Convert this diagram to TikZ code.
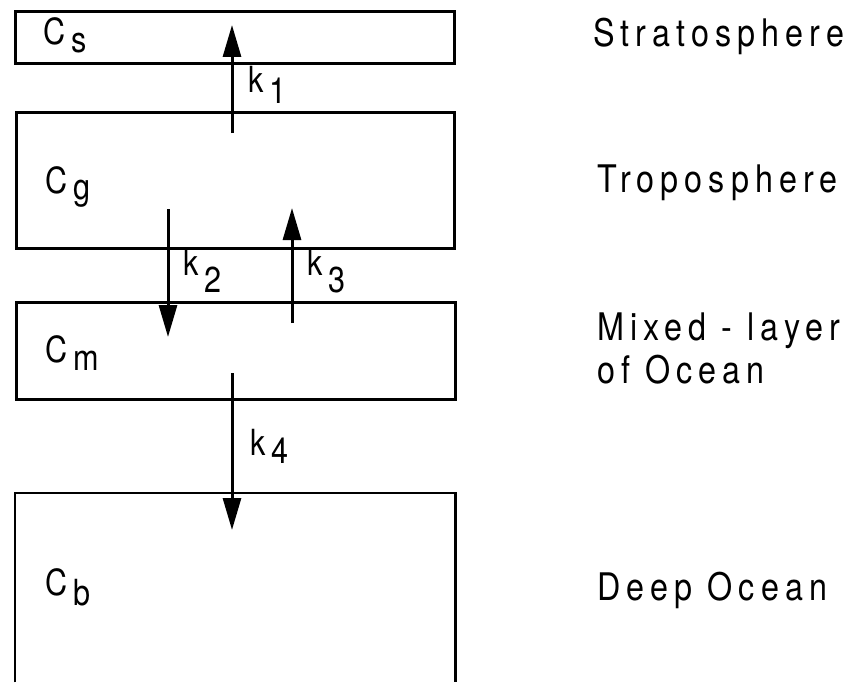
\documentclass[tikz,border=0pt]{standalone}
\usepackage{fontspec}
\setsansfont{TeX Gyre Heros}[FakeStretch=0.85,LetterSpace=16]
\usetikzlibrary{arrows.meta}
% subscript set at full size, dropped below the baseline
\newcommand\lowsub[2][10pt]{\hspace{6pt}\raisebox{-#1}{#2}}
\begin{document}
\begin{tikzpicture}[x=1pt,y=-1pt,
  layer/.style={draw,line width=3pt,inner sep=0pt,anchor=north west},
  flux/.style={line width=3pt,-{Triangle[length=32pt,width=18pt]}},
  zone/.style={anchor=base west,inner sep=0pt,font=\sffamily\fontsize{38}{43}\selectfont},
  pool/.style={anchor=base west,inner sep=0pt,font=\sffamily\fontsize{36}{40}\selectfont},
]
\useasboundingbox (0,0) rectangle (853,682);

% reservoirs
\node[layer,minimum width=439pt,minimum height=52pt]  (strat) at (14,10)  {};
\node[layer,minimum width=438pt,minimum height=136pt] (trop)  at (15,111) {};
\node[layer,minimum width=439pt,minimum height=97pt]  (mixed) at (15,301) {};
\node[inner sep=0pt,anchor=north west,minimum width=440pt,minimum height=189pt] (deep) at (15,493) {};
\draw[line width=2.4pt] (deep.south west) -- (deep.north west) -- (deep.north east) -- (deep.south east);

% reservoir contents
\node[pool] (cs) at (43,45)  {C\lowsub[8pt]{s}};
\node[pool] (cg) at (45,193) {C\lowsub[6pt]{g}};
\node[pool] (cm) at (45,362) {C\lowsub[8pt]{m}};
\node[pool] (cb) at (45,595) {C\lowsub[10pt]{b}};

% exchange fluxes
\coordinate (k1tail) at (232,133); \coordinate (k1head) at (232,25);
\coordinate (k2tail) at (168,209); \coordinate (k2head) at (168,337);
\coordinate (k3tail) at (292,323); \coordinate (k3head) at (292,208);
\coordinate (k4tail) at (232,373); \coordinate (k4head) at (232,530);
\draw[flux] (k1tail) -- (k1head);
\draw[flux] (k2tail) -- (k2head);
\draw[flux] (k3tail) -- (k3head);
\draw[flux] (k4tail) -- (k4head);

\node[pool] (k1) at (248,93)  {k\lowsub[10pt]{1}};
\node[pool] (k2) at (183,275) {k\lowsub[17pt]{2}};
\node[pool] (k3) at (307,275) {k\lowsub[17pt]{3}};
\node[pool] (k4) at (250,455) {k\lowsub[8pt]{4}};

% layer names
\node[zone] (nstrat) at (593,47)  {Stratosphere};
\node[zone] (ntrop)  at (597,192) {Troposphere};
\node[zone] (nmix)   at (597,340) {Mixed~-~layer};
\node[zone] (nmix2)  at (597,383) {of Ocean};
\node[zone] (ndeep)  at (597,600) {Deep Ocean};
\end{tikzpicture}
\end{document}
